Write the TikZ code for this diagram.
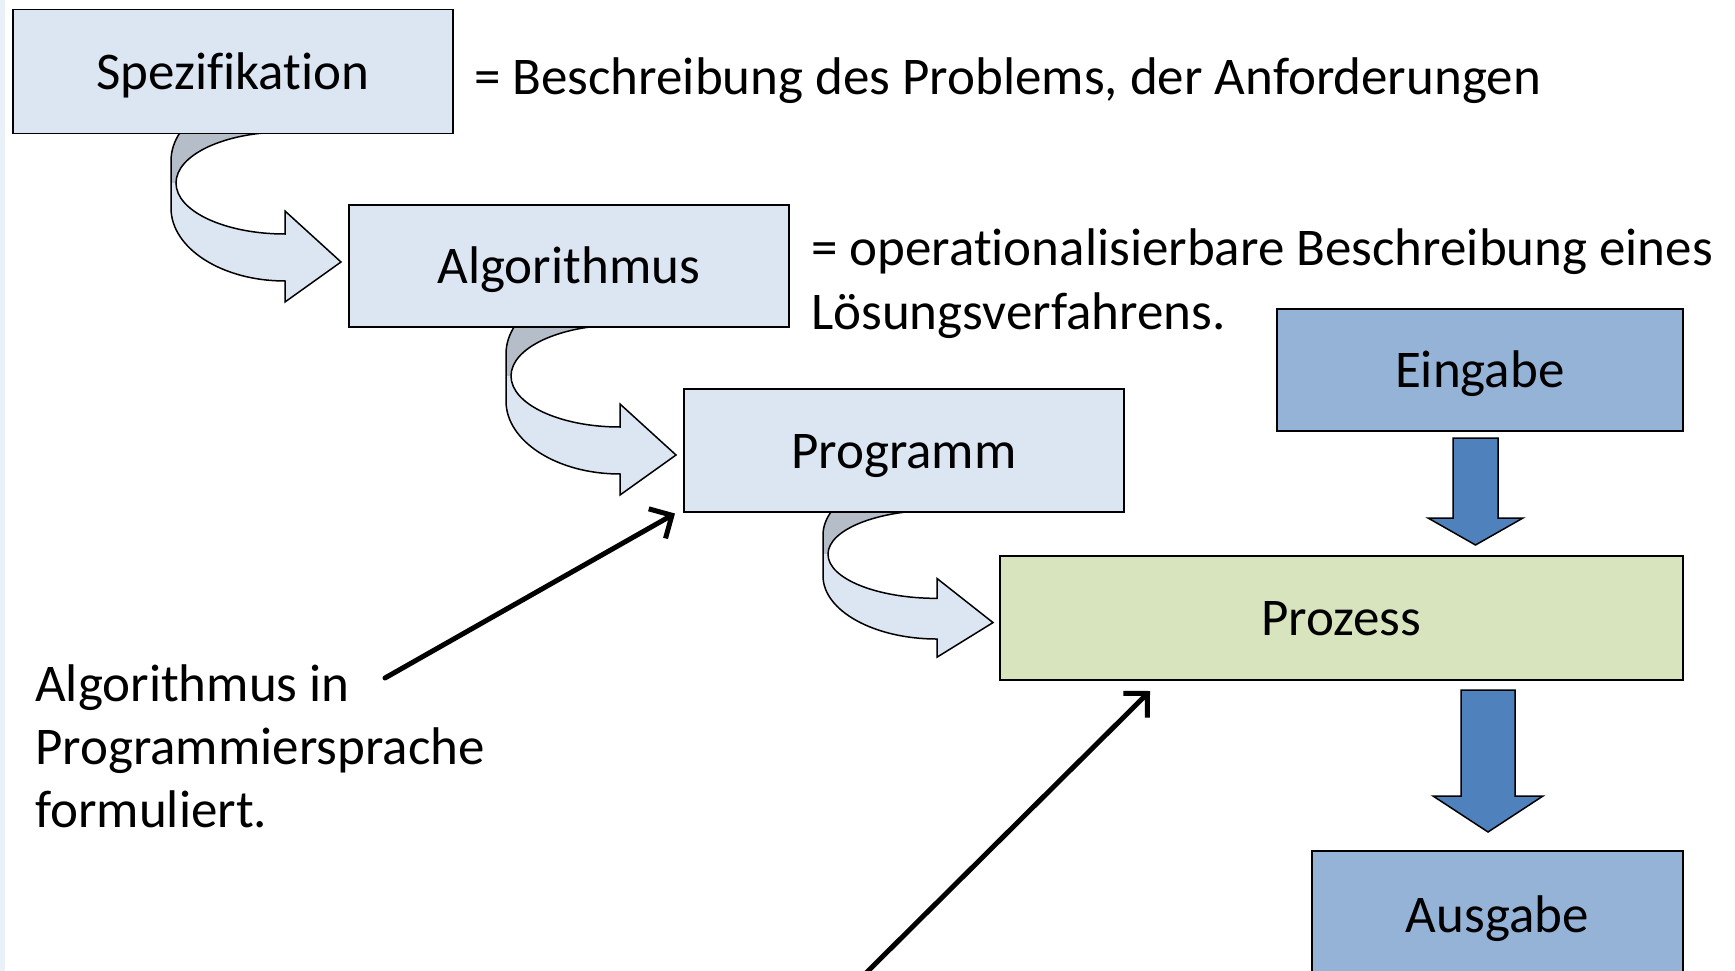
\documentclass[tikz,border=0pt]{standalone}
\usepackage{fontspec}
\setmainfont{Carlito}[Ligatures={NoCommon}]
\usetikzlibrary{arrows.meta,calc}
\definecolor{boxblue}{HTML}{DCE6F2}
\definecolor{backgray}{HTML}{B4BDC8}
\definecolor{procgreen}{HTML}{D7E4BD}
\definecolor{iocol}{HTML}{95B3D7}
\definecolor{arrblue}{HTML}{4F81BD}
\definecolor{stripcol}{HTML}{EAF0F8}
\begin{document}
\begin{tikzpicture}[x=1pt,y=-1pt,
  font=\fontsize{53}{64}\selectfont,
  box/.style={draw=black, line width=1.5pt, inner sep=0pt, anchor=north west,
    text height=46pt, text depth=10pt},
  lbl/.style={anchor=base west, inner sep=0pt},
  annot/.style={line width=5pt, line cap=round, line join=round,
    -{Straight Barb[length=17pt,width=34pt]}},
  blockarr/.style={fill=arrblue, draw=black, line width=1.5pt, line join=miter},
  curvarr/.pic={
    \fill[backgray] (0,28) .. controls (0,-12.3) and (51,-45) .. (114,-45)
      -- (114,-1) .. controls (53.8,-1) and (5,21.8) .. (5,50) -- (0,50) -- cycle;
    \fill[boxblue] (0,50) -- (0,75) .. controls (0,115.3) and (51,148) .. (114,148)
      -- (114,169) -- (170,129) -- (114,78) -- (114,101)
      .. controls (53.8,101) and (5,78.2) .. (5,50) -- cycle;
    \draw[line width=1.5pt, line join=miter]
      (114,-45) .. controls (51,-45) and (0,-12.3) .. (0,28) -- (0,75)
      .. controls (0,115.3) and (51,148) .. (114,148)
      -- (114,169) -- (170,129) -- (114,78) -- (114,101)
      .. controls (53.8,101) and (5,78.2) .. (5,50)
      .. controls (5,21.8) and (53.8,-1) .. (114,-1);
  }]
\useasboundingbox (0,0) rectangle (1735,971);
\clip (0,0) rectangle (1735,971);
\fill[stripcol] (0,0) rectangle (5,971);

% curved arrows (drawn first, boxes cover their tops)
\pic at (171,133) {curvarr};
\pic at (506,326) {curvarr};
\pic[yscale=0.865] at (823,511) {curvarr};

% boxes
\node[box, fill=boxblue, minimum width=440pt, minimum height=124pt] (spez) at (12,9) {Spezifikation};
\node[box, fill=boxblue, minimum width=440pt, minimum height=122pt] (alg) at (348,204) {Algorithmus};
\node[box, fill=boxblue, minimum width=440pt, minimum height=123pt] (prog) at (683,388) {Programm};
\node[box, fill=procgreen, minimum width=683pt, minimum height=124pt] (proz) at (999,555) {Prozess};
\node[box, fill=iocol, minimum width=406pt, minimum height=122pt] (ein) at (1276,308) {Eingabe};
\node[box, fill=iocol, minimum width=371pt, minimum height=128pt] (aus) at (1311,850) {Ausgabe};

% descriptive texts
\node[lbl] (d1) at (474,95) {= Beschreibung des Problems, der Anforderungen};
\node[lbl] (d2a) at (811,265) {= operationalisierbare Beschreibung eines};
\node[lbl] (d2b) at (811,329) {Lösungsverfahrens.};
\node[lbl] (l1) at (35,701) {Algorithmus in};
\node[lbl] (l2) at (35,764) {Programmiersprache};
\node[lbl] (l3) at (35,827) {formuliert.};

% block arrows
\draw[blockarr] (1453,438) -- (1498,438) -- (1498,518) -- (1523,518) -- (1475.5,545)
  -- (1428,518) -- (1453,518) -- cycle;
\draw[blockarr] (1461,690) -- (1515,690) -- (1515,796) -- (1543,796) -- (1488,832)
  -- (1433,796) -- (1461,796) -- cycle;

% annotation arrows
\coordinate (a1s) at (385,678);
\coordinate (a1e) at ($(prog.south west)+(-8,1)$);
\draw[annot] (a1s) -- (a1e);
\coordinate (a2s) at (862,977);
\coordinate (a2e) at (1150,691);
\draw[annot] (a2s) -- (a2e);
\end{tikzpicture}
\end{document}
